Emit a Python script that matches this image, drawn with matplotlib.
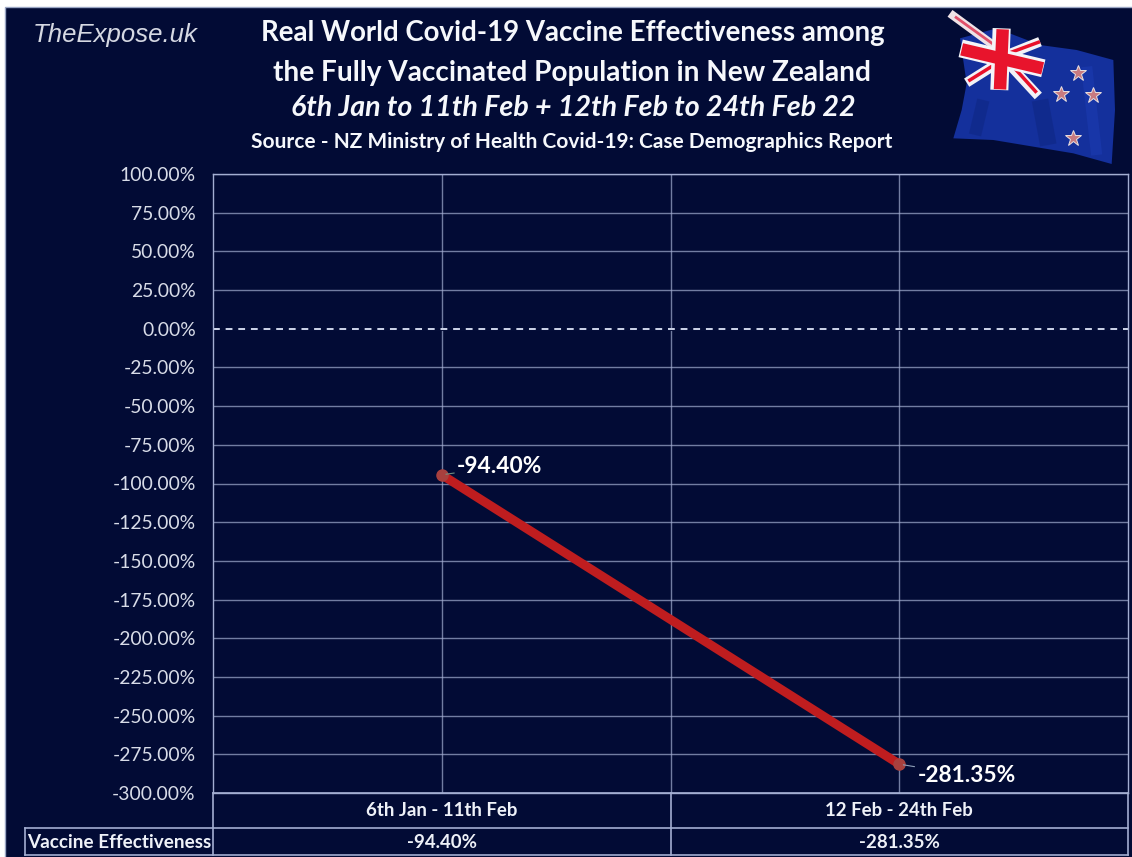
import matplotlib
matplotlib.use("Agg")
import matplotlib.pyplot as plt
from matplotlib.patches import Polygon, Rectangle

W, H = 1132, 857

categories = ["6th Jan - 11th Feb", "12 Feb - 24th Feb"]
effectiveness = [-94.40, -281.35]
table_label = "Vaccine Effectiveness"
y_ticks = list(range(-300, 101, 25))

NAVY = "#020b35"
GRID = "#a3aed2"
TXT = "#eef1f8"

plt.rcParams["font.family"] = ["Lato", "DejaVu Sans"]

fig = plt.figure(figsize=(W / 100, H / 100), dpi=100, facecolor="white")

# background panel, pixel coords
bg = fig.add_axes([0, 0, 1, 1])
bg.set_xlim(0, W)
bg.set_ylim(H, 0)
bg.axis("off")
bg.add_patch(Rectangle((5, 7), W, H, fc=NAVY, ec="#9aa6c4", lw=1))

# titles
title_font = dict(color="#f6f8fc", ha="center", va="center", fontweight="bold")
bg.text(573, 33, "Real World Covid-19 Vaccine Effectiveness among", fontsize=19.9, **title_font)
bg.text(572, 73, "the Fully Vaccinated Population in New Zealand", fontsize=20.2, **title_font)
bg.text(573, 108, "6th Jan to 11th Feb + 12th Feb to 24th Feb 22", fontsize=20.6, style="italic", **title_font)
bg.text(572, 142, "Source - NZ Ministry of Health Covid-19: Case Demographics Report", fontsize=15, **title_font)
bg.text(115, 35, "TheExpose.uk", fontsize=18.5, color="#d5d8e2", style="italic", ha="center", va="center",
        family="Liberation Sans")


# ------------------------
# flag, traced off a 3x crop whose origin is x=900
# ------------------------
def z(pts):
    return [(900 + x / 3, y / 3) for x, y in pts]


def zline(pts, color, lw, alpha=1):
    p = z(pts)
    bg.plot([a for a, b in p], [b for a, b in p], color=color, lw=lw, alpha=alpha, solid_capstyle="butt")


bg.add_patch(Polygon(z([(180, 115), (290, 85), (420, 135), (530, 150), (640, 180), (645, 330), (635, 492),
                        (520, 460), (400, 440), (280, 420), (160, 415), (185, 330), (200, 250)]),
                     fc="#14309c", ec="none"))
zline([(250, 300), (225, 405)], "#0e2580", 9, 0.5)
zline([(420, 300), (445, 435)], "#0e2580", 12, 0.5)
zline([(560, 200), (590, 465)], "#1d3cb5", 8, 0.5)
# diagonals
zline([(150, 40), (300, 150)], "#efe2e6", 6)
zline([(165, 50), (290, 140)], "#e0506a", 2)
zline([(420, 125), (320, 165)], "#f2f2f6", 7)
zline([(420, 125), (325, 160)], "#e8102a", 2.5)
zline([(200, 248), (300, 185)], "#f2f2f6", 7)
zline([(205, 243), (290, 190)], "#e8102a", 2.5)
zline([(320, 185), (415, 288)], "#f2f2f6", 7)
zline([(335, 195), (410, 278)], "#e8102a", 2.5)
# cross
zline([(182, 145), (430, 205)], "#f4f4f8", 13)
zline([(305, 85), (298, 270)], "#f4f4f8", 13)
zline([(185, 148), (428, 205)], "#e8142c", 9)
zline([(308, 88), (300, 268)], "#e8142c", 9)
for sx, sy in z([(535, 218), (483, 283), (578, 285), (520, 413)]):
    bg.plot(sx, sy, marker="*", ms=12, mfc="#c87a80", mec="#e8e0e0", mew=0.7, ls="none")

# ------------------------
# chart
# ------------------------
ax_left, ax_right, ax_top, ax_bottom = 213, 1128, 174, 793
ax = fig.add_axes([ax_left / W, 1 - ax_bottom / H, (ax_right - ax_left) / W, (ax_bottom - ax_top) / H])
ax.set_facecolor("none")
ax.set_xlim(-0.5, 1.5)
ax.set_ylim(-300, 100)

ax.set_yticks(y_ticks)
ax.set_yticklabels([f"{v:.2f}%" for v in y_ticks], fontsize=13.9, color="#d8dce8")
ax.set_xticks([0, 0.5, 1])
ax.set_xticklabels([])
ax.tick_params(length=0, pad=12.5)
ax.grid(True, color=GRID, lw=1, alpha=0.7)
ax.set_axisbelow(True)
for s in ax.spines.values():
    s.set_color(GRID)
    s.set_linewidth(1)

# zero line dashed over the navy
ax.axhline(0, color=NAVY, lw=2)
ax.axhline(0, color="#cfd6ea", lw=1.4, ls=(0, (3.5, 3)))

xs = list(range(len(categories)))
ax.plot(xs, effectiveness, color="#bf1d1f", lw=6.5, marker="o", ms=8, mfc="#a8403e", mec="#a8403e",
        solid_capstyle="round", zorder=3)

ax.annotate(f"{effectiveness[0]:.2f}%", (xs[0], effectiveness[0]), xytext=(11, 6), textcoords="offset points",
            color="white", fontsize=16.4, fontweight="bold", va="center",
            arrowprops=dict(arrowstyle="-", color="#6f8f80", lw=0.8, shrinkA=0, shrinkB=3))
ax.annotate(f"{effectiveness[1]:.2f}%", (xs[1], effectiveness[1]), xytext=(13, -8), textcoords="offset points",
            color="white", fontsize=16.4, fontweight="bold", va="center",
            arrowprops=dict(arrowstyle="-", color="#8fa0b8", lw=0.8, shrinkA=0, shrinkB=3))

# ------------------------
# data table under the chart
# ------------------------
row1, row2, row3 = 793, 828, 855
mid = (ax_left + ax_right) / 2
tbl = dict(color=GRID, lw=1.2)
bg.plot([ax_left, ax_right], [row1, row1], **tbl)
bg.plot([25, ax_right], [row2, row2], **tbl)
bg.plot([25, ax_right], [row3, row3], **tbl)
bg.plot([25, 25], [row2, row3], **tbl)
for x in (ax_left, mid, ax_right):
    bg.plot([x, x], [row1, row3], **tbl)

centers = [ax_left + (i + 0.5) * (ax_right - ax_left) / len(categories) for i in xs]
for cx, cat, val in zip(centers, categories, effectiveness):
    bg.text(cx, 811, cat, color=TXT, fontsize=13.4, fontweight="bold", ha="center", va="center")
    bg.text(cx, 842, f"{val:.2f}%", color=TXT, fontsize=13.4, fontweight="bold", ha="center", va="center")
bg.text(119.5, 842, table_label, color=TXT, fontsize=13.6, fontweight="bold", ha="center", va="center")

fig.savefig("out.png", dpi=100, facecolor="white")
